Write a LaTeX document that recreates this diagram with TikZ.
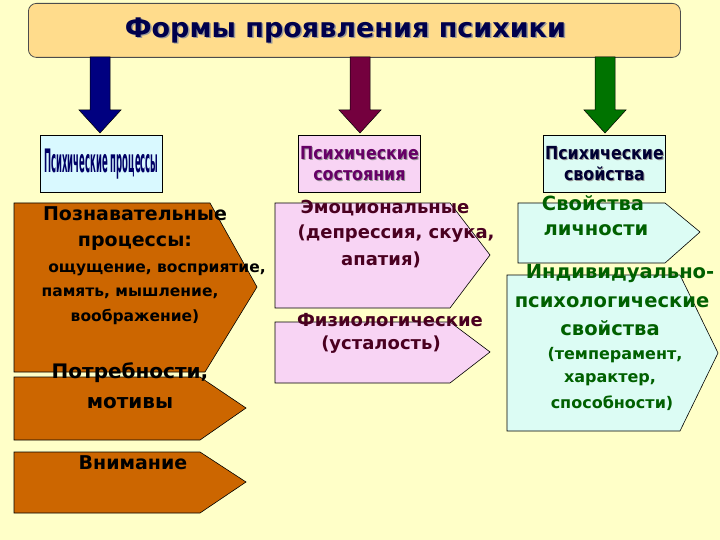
\documentclass[tikz,border=0pt]{standalone}
\usepackage{fontspec}
\setmainfont{DejaVu Sans}
\begin{document}
\begin{tikzpicture}[x=1pt,y=-1pt,
  lt/.style={font=\bfseries\fontsize{19}{20}\selectfont,text=black,inner sep=0},
  ls/.style={font=\bfseries\fontsize{15.5}{17}\selectfont,text=black,inner sep=0},
  mt/.style={font=\bfseries\fontsize{18}{20}\selectfont,text=mtc,inner sep=0},
  rt/.style={font=\bfseries\fontsize{19.5}{21}\selectfont,text=rtc,inner sep=0},
  rs/.style={font=\bfseries\fontsize{16}{18}\selectfont,text=rtc,inner sep=0},
  hd/.style={draw=black,line width=0.8pt,minimum width=122pt,minimum height=57pt,anchor=north west,align=center,inner sep=0},
  shp/.style={draw=black,line width=0.6pt}]
\definecolor{bg}{HTML}{FFFFC8}
\definecolor{orng}{HTML}{CC6600}
\definecolor{pnk}{HTML}{F8D4F4}
\definecolor{cyn}{HTML}{DCFCF4}
\definecolor{mtc}{HTML}{4A0020}
\definecolor{rtc}{HTML}{006000}
\definecolor{ttl}{HTML}{FFDC8C}
\fill[bg] (0,0) rectangle (720,540);
\useasboundingbox (0,0) rectangle (720,540);
% title
\node[draw=black!70,line width=0.8pt,fill=ttl,rounded corners=8pt,minimum width=652pt,minimum height=54pt,anchor=north west,inner sep=0] (title) at (28,3) {};
\node[text=black!40,font=\bfseries\fontsize{27}{30}\selectfont] at ([xshift=-7.5pt,yshift=-1.5pt]title.center) {Формы проявления психики};
\node[text=blue!30!black,font=\bfseries\fontsize{27}{30}\selectfont] (ttxt) at ([xshift=-9pt]title.center) {Формы проявления психики};
% arrows
\foreach \cx/\col in {100/blue!50!black, 360/violet!70!red!70!black, 605/green!45!black}{
  \fill[\col,draw=black,line width=0.5pt] (\cx-10,57) -- (\cx+10,57) -- (\cx+10,110) -- (\cx+21,110) -- (\cx,133) -- (\cx-21,110) -- (\cx-10,110) -- cycle;
}
% headers
\node[hd,fill=blue!15!cyan!15] (h1) at (40,135) {\scalebox{0.5}[1.9]{\textcolor{blue!40!black}{\bfseries\fontsize{17}{18}\selectfont Психические процессы}}};
\node[hd,fill=pnk] (h2) at (298,135) {};
\node[text=black!40,align=center,font=\bfseries\fontsize{18}{21}\selectfont] at ([xshift=1pt,yshift=-1pt]h2.center) {\scalebox{0.88}[1]{Психические}\\\scalebox{0.88}[1]{состояния}};
\node[text=violet!80!black,align=center,font=\bfseries\fontsize{18}{21}\selectfont] at (h2.center) {\scalebox{0.88}[1]{Психические}\\\scalebox{0.88}[1]{состояния}};
\node[hd,fill=cyn] (h3) at (543,135) {};
\node[text=black!40,align=center,font=\bfseries\fontsize{18}{21}\selectfont] at ([xshift=1pt,yshift=-1pt]h3.center) {\scalebox{0.88}[1]{Психические}\\\scalebox{0.88}[1]{свойства}};
\node[text=blue!20!black,align=center,font=\bfseries\fontsize{18}{21}\selectfont] at (h3.center) {\scalebox{0.88}[1]{Психические}\\\scalebox{0.88}[1]{свойства}};
% left shapes
\filldraw[shp,fill=orng] (14,203) -- (210,203) -- (257,287) -- (205,372) -- (14,372) -- cycle;
\filldraw[shp,fill=orng] (14,377) -- (200,377) -- (246,408) -- (200,440) -- (14,440) -- cycle;
\filldraw[shp,fill=orng] (14,452) -- (200,452) -- (246,482) -- (200,513) -- (14,513) -- cycle;
% middle
\filldraw[shp,fill=pnk] (275,203) -- (450,203) -- (490,255) -- (450,308) -- (275,308) -- cycle;
\filldraw[shp,fill=pnk] (275,322) -- (450,322) -- (490,352) -- (450,383) -- (275,383) -- cycle;
% right
\filldraw[shp,fill=cyn] (518,203) -- (665,203) -- (700,232) -- (665,263) -- (518,263) -- cycle;
\filldraw[shp,fill=cyn] (507,275) -- (680,275) -- (718,353) -- (680,431) -- (507,431) -- cycle;
% texts
\node[lt] (l1) at (135,214) {Познавательные};
\node[lt] (l2) at (135,243) {процессы:};
\node[ls] (l3) at (157,270) {ощущение, восприятие,};
\node[ls] (l4) at (130,293) {память, мышление,};
\node[ls] (l5) at (135,317) {воображение)};
\node[lt,font=\bfseries\fontsize{20}{22}\selectfont] (l6) at (130,373) {Потребности,};
\node[lt,font=\bfseries\fontsize{20}{22}\selectfont] (l7) at (130,403) {мотивы};
\node[lt] (l8) at (133,463) {Внимание};
\node[mt] (m1) at (385,208) {Эмоциональные};
\node[mt] (m2) at (396,234) {(депрессия, скука,};
\node[mt] (m3) at (381,260) {апатия)};
\node[mt] (m4) at (390,320) {Физиологические};
\node[mt] (m5) at (381,345) {(усталость)};
\node[rt] (r1) at (593,203) {Свойства};
\node[rt] (r2) at (596,230) {личности};
\node[rt] (r3) at (620,273) {Индивидуально-};
\node[rt] (r4) at (612,302) {психологические};
\node[rt] (r5) at (610,328) {свойства};
\node[rs] (r6) at (615,355) {(темперамент,};
\node[rs] (r7) at (610,380) {характер,};
\node[rs] (r8) at (612,403) {способности)};
\end{tikzpicture}
\end{document}
